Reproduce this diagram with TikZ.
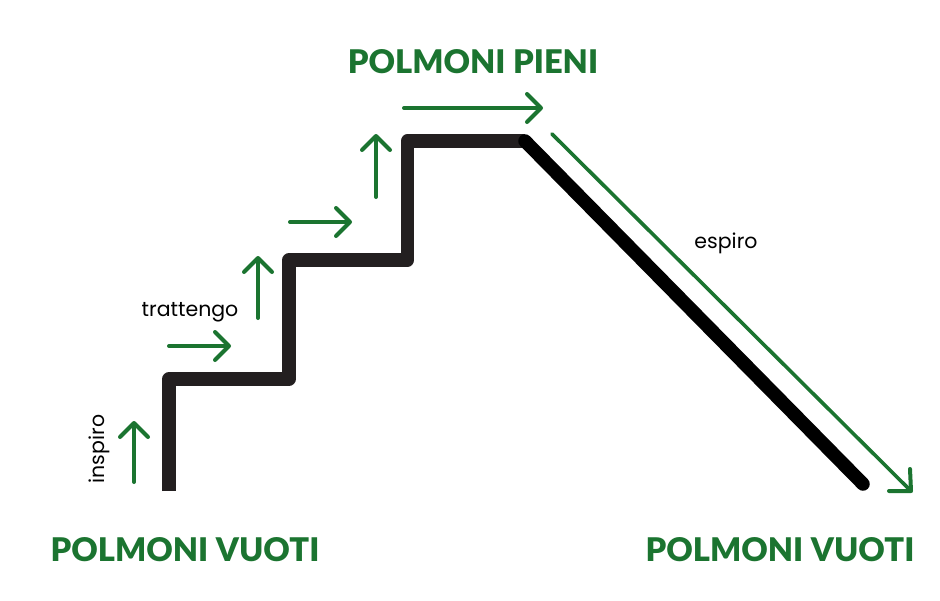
\documentclass[tikz,border=0pt]{standalone}
\usepackage{fontspec}
\setmainfont{Poppins}
\newfontfamily\headfont{Lato Black}
\usetikzlibrary{arrows.meta}
\definecolor{leaf}{HTML}{1B7430}
\definecolor{stair}{HTML}{231F20}
\tikzset{
  x=1pt,y=-1pt,
  stairline/.style={draw=stair,line width=13.5pt,line join=round},
  slopeline/.style={draw=black,line width=13.5pt,line cap=round},
  flow/.style={draw=leaf,line width=4pt,line cap=round,
    -{Straight Barb[length=14pt,width=28pt,line width=4pt,round,line join=round]}},
  slopeflow/.style={draw=leaf,line width=3.6pt,line cap=round,line join=round},
  heading/.style={text=leaf,font=\headfont\fontsize{32.6}{36}\selectfont,inner sep=0pt,anchor=base},
  note/.style={text=black,font=\fontsize{20.5}{24}\selectfont,inner sep=0pt,anchor=base},
}
\begin{document}
\begin{tikzpicture}
\useasboundingbox (0,0) rectangle (940,600);
\coordinate (s0) at (169,491);
\coordinate (s1) at (169,379);
\coordinate (s2) at (289,379);
\coordinate (s3) at (289,260);
\coordinate (s4) at (407.5,260);
\coordinate (s5) at (407.5,141);
\coordinate (s6) at (525,141);
\coordinate (s7) at (863,484);
\draw[stairline] (s0) -- (s1) -- (s2) -- (s3) -- (s4) -- (s5) -- (s6);
\draw[slopeline] (s6) -- (s7);
\coordinate (a1s) at (134,482); \coordinate (a1e) at (134,421);
\coordinate (a2s) at (169,346); \coordinate (a2e) at (231,346);
\coordinate (a3s) at (258,318); \coordinate (a3e) at (258,256);
\coordinate (a4s) at (290,222); \coordinate (a4e) at (352,222);
\coordinate (a5s) at (376,197); \coordinate (a5e) at (376,134);
\coordinate (a6s) at (404,108); \coordinate (a6e) at (543,108);
\draw[flow] (a1s) -- (a1e);
\draw[flow] (a2s) -- (a2e);
\draw[flow] (a3s) -- (a3e);
\draw[flow] (a4s) -- (a4e);
\draw[flow] (a5s) -- (a5e);
\draw[flow] (a6s) -- (a6e);
\coordinate (d0) at (552,134);
\coordinate (d1) at (911,491);
\coordinate (d2) at (910,469);
\coordinate (d3) at (889,491);
\draw[slopeflow] (d0) -- (d1);
\draw[slopeflow,line width=4pt] (d2) -- (d1) -- (d3);
\node[heading] (h1) at (185,561) {POLMONI VUOTI};
\node[heading] (h2) at (473,73) {POLMONI PIENI};
\node[heading] (h3) at (780,561) {POLMONI VUOTI};
\node[note] (n1) at (190,316) {trattengo};
\node[note] (n2) at (726,248) {espiro};
\node[note,rotate=90] (n3) at (104,449) {inspiro};
\end{tikzpicture}
\end{document}
